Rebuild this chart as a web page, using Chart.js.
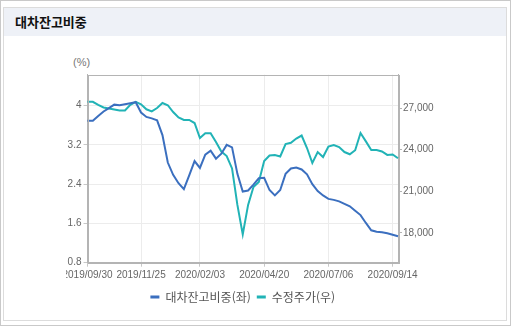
<!DOCTYPE html>
<html lang="ko">
<head>
<meta charset="utf-8">
<title>대차잔고비중</title>
<script src="https://cdn.jsdelivr.net/npm/chart.js@4/dist/chart.umd.min.js"></script>
<style>
	body { margin: 0; background: #fff; }
	#frame {
		position: absolute; left: 0; top: 0;
		width: 509px; height: 324px;
		border: 1px solid #c9c9c9;
	}
	#panel {
		position: absolute; left: 3px; top: 7px;
		width: 502px; height: 312px;
		border: 1px solid #dcdcdc;
	}
	#header {
		height: 28px; background: #eef1f7;
		font: bold 13px "Noto Sans CJK KR", sans-serif;
		color: #111; line-height: 28px; padding-left: 11px;
	}
	#unit {
		position: absolute; left: 73px; top: 56px;
		font: 11px "Liberation Sans", Arial, sans-serif; color: #777;
	}
	#box {
		position: absolute; left: 66px; top: 40px;
		width: 445px; height: 273px;
	}
</style>
</head>
<body>
<div id="frame"></div>
<div id="panel"><div id="header">대차잔고비중</div></div>
<div id="unit">(%)</div>
<div id="box"><canvas id="chart"></canvas></div>

<script>
const dates = [
	'2019/09/30', '2019/10/04', '2019/10/11', '2019/10/18', '2019/10/25', '2019/11/01', '2019/11/08', '2019/11/13', '2019/11/18', '2019/11/21',
	'2019/11/25', '2019/12/02', '2019/12/09', '2019/12/16', '2019/12/23', '2019/12/30', '2020/01/06', '2020/01/13', '2020/01/20', '2020/01/23',
	'2020/01/28', '2020/02/03', '2020/02/10', '2020/02/17', '2020/02/24', '2020/03/02', '2020/03/09', '2020/03/13', '2020/03/19', '2020/03/23',
	'2020/03/30', '2020/04/06', '2020/04/13', '2020/04/20', '2020/04/27', '2020/05/04', '2020/05/11', '2020/05/18', '2020/05/25', '2020/06/01',
	'2020/06/08', '2020/06/12', '2020/06/15', '2020/06/22', '2020/06/29', '2020/07/06', '2020/07/13', '2020/07/20', '2020/07/27', '2020/08/03',
	'2020/08/10', '2020/08/14', '2020/08/18', '2020/08/24', '2020/08/28', '2020/08/31', '2020/09/07', '2020/09/14', '2020/09/18'
]

// 대차잔고비중 (%), left axis
const loanRatio = [
	3.69, 3.69, 3.79, 3.88, 3.95, 4.02, 4.01, 4.03, 4.05, 4.07,
	3.86, 3.77, 3.74, 3.70, 3.40, 2.84, 2.59, 2.42, 2.30, 2.58,
	2.87, 2.73, 3.00, 3.08, 2.92, 3.02, 3.20, 3.15, 2.61, 2.25,
	2.27, 2.39, 2.52, 2.53, 2.28, 2.17, 2.28, 2.61, 2.72, 2.74,
	2.70, 2.60, 2.40, 2.26, 2.17, 2.10, 2.08, 2.05, 2.00, 1.95,
	1.86, 1.77, 1.61, 1.46, 1.43, 1.42, 1.40, 1.37, 1.34
]

// 수정주가 (원), right axis
const adjPrice = [
	27450, 27450, 27220, 27040, 26960, 26900, 26820, 26820, 27230, 27450,
	27270, 26910, 26760, 27000, 27360, 27200, 26710, 26320, 26140, 26140,
	25920, 24840, 25180, 25180, 24550, 23870, 23540, 22650, 20020, 17900,
	20020, 21310, 21670, 23180, 23580, 23620, 23510, 24410, 24500, 24800,
	25020, 24120, 23040, 23830, 23470, 24230, 24340, 24190, 23830, 23670,
	23960, 25200, 24600, 23980, 23980, 23870, 23620, 23650, 23380
]

const dateTicks = ['2019/09/30', '2019/11/25', '2020/02/03', '2020/04/20', '2020/07/06', '2020/09/14']
const ratioTicks = [0.8, 1.6, 2.4, 3.2, 4]
const priceTicks = [18000, 21000, 24000, 27000]

const BLUE = '#3b6fbf'
const TEAL = '#21b3b6'
const tickFont = { family: '"Liberation Sans", Arial, sans-serif', size: 10 }

// thin frame around the plot area
const framePlugin = {
	id: 'frame',
	afterDraw(chart) {
		const { ctx, chartArea: a } = chart
		ctx.save()
		ctx.strokeStyle = '#b4b4b4'
		ctx.lineWidth = 1
		ctx.strokeRect(Math.round(a.left) + 0.5, Math.round(a.top) + 0.5, Math.round(a.right - a.left), Math.round(a.bottom - a.top))
		ctx.restore()
	}
}

const render = () => {
	const data = {
		labels: dates,
		datasets: [{
			label: '대차잔고비중(좌)',
			data: loanRatio,
			yAxisID: 'y',
			borderColor: BLUE,
			backgroundColor: BLUE,
			borderWidth: 2,
			pointRadius: 0,
			tension: 0
		}, {
			label: '수정주가(우)',
			data: adjPrice,
			yAxisID: 'y1',
			borderColor: TEAL,
			backgroundColor: TEAL,
			borderWidth: 2,
			pointRadius: 0,
			tension: 0
		}]
	}

	const config = {
		type: 'line',
		data: data,
		plugins: [framePlugin],
		options: {
			responsive: true,
			maintainAspectRatio: false,
			animation: false,
			layout: { padding: { top: 34.7, left: 0, right: 0, bottom: 0 } },
			plugins: {
				tooltip: { enabled: false },
				legend: {
					position: 'bottom',
					fullSize: false,
					labels: {
						boxWidth: 9,
						boxHeight: 3,
						padding: 6,
						color: '#555',
						font: { family: '"Noto Sans CJK KR", sans-serif', size: 12 },
						generateLabels: chart => Chart.defaults.plugins.legend.labels.generateLabels(chart)
							.map(item => ({ ...item, lineWidth: 0 }))
					}
				}
			},
			scales: {
				x: {
					ticks: {
						autoSkip: false,
						maxRotation: 0,
						padding: 3,
						color: '#666',
						font: tickFont
					},
					grid: { color: '#ececec', tickColor: '#c8c8c8', tickLength: 4 },
					border: { color: '#b4b4b4' },
					afterBuildTicks: scale => {
						scale.ticks = scale.ticks.filter(t => dateTicks.includes(dates[t.value]))
					},
					afterFit: scale => {
						scale.height = 22.3
						scale.paddingLeft = 0
						scale.paddingRight = 0
					}
				},
				y: {
					position: 'left',
					min: 0.8,
					max: 4.63,
					ticks: {
						padding: 2,
						color: '#666',
						font: tickFont,
						callback: v => String(Math.round(v * 10) / 10)
					},
					grid: { color: '#ececec', tickColor: '#c8c8c8', tickLength: 4 },
					border: { color: '#b4b4b4' },
					afterBuildTicks: scale => {
						scale.ticks = ratioTicks.map(v => ({ value: v }))
					},
					afterFit: scale => { scale.width = 21.5 }
				},
				y1: {
					position: 'right',
					min: 15860,
					max: 29400,
					ticks: {
						padding: 1,
						color: '#666',
						font: tickFont,
						callback: v => v.toLocaleString('en-US')
					},
					grid: { drawOnChartArea: false, tickColor: '#b4b4b4', tickLength: 4 },
					border: { color: '#b4b4b4' },
					afterBuildTicks: scale => {
						scale.ticks = priceTicks.map(v => ({ value: v }))
					},
					afterFit: scale => { scale.width = 113 }
				}
			}
		}
	}

	new Chart(document.getElementById('chart'), config)
}

render()
</script>
</body>
</html>
